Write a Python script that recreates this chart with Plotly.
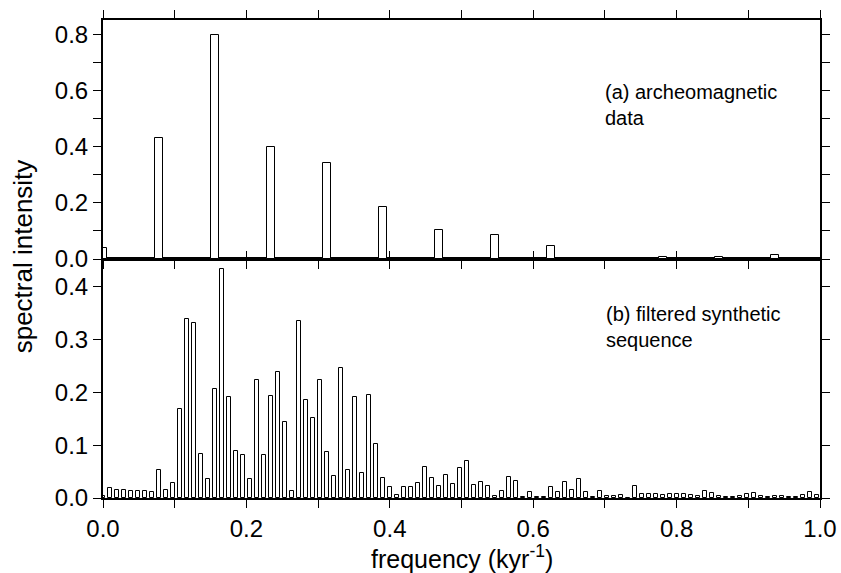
import numpy as np
import plotly.graph_objects as go

# ---- data ----
# (a) archeomagnetic data: spectral intensity at frequency bins k / 12.8 kyr^-1
df_a = 1 / 12.8
intensity_a = [0.039, 0.431, 0.800, 0.400, 0.344, 0.186, 0.103, 0.084,
               0.045, 0.000, 0.006, 0.008, 0.013]
freq_a = [k * df_a for k in range(len(intensity_a))]

# (b) filtered synthetic sequence: bins k / 102.4 kyr^-1
df_b = 1 / 102.4
intensity_b = [
    0.004, 0.019, 0.015, 0.0145, 0.013, 0.013, 0.013, 0.011, 0.053, 0.0145,
    0.028, 0.169, 0.338, 0.331, 0.083, 0.035, 0.206, 0.433, 0.191, 0.088,
    0.082, 0.036, 0.223, 0.081, 0.192, 0.239, 0.143, 0.013, 0.334, 0.186,
    0.152, 0.223, 0.087, 0.041, 0.246, 0.053, 0.191, 0.048, 0.194, 0.103,
    0.037, 0.020, 0.006, 0.020, 0.021, 0.028, 0.058, 0.038, 0.023, 0.043,
    0.027, 0.056, 0.070, 0.025, 0.031, 0.023, 0.003, 0.014, 0.039, 0.032,
    0.001, 0.012, 0.001, 0.001, 0.020, 0.012, 0.031, 0.015, 0.036, 0.012,
    0.002, 0.013, 0.003, 0.004, 0.006, 0.0005, 0.022, 0.008, 0.008, 0.008,
    0.005, 0.007, 0.007, 0.007, 0.005, 0.004, 0.013, 0.009, 0.003, 0.001,
    0.001, 0.003, 0.008, 0.010, 0.004, 0.001, 0.003, 0.004, 0.001, 0.001,
    0.005, 0.012, 0.006,
]
freq_b = [k * df_b for k in range(len(intensity_b))]

x_ticks = [0.0, 0.2, 0.4, 0.6, 0.8, 1.0]
label_a = "(a) archeomagnetic<br>data"
label_b = "(b) filtered synthetic<br>sequence"
x_title = "frequency (kyr<sup>-1</sup>)"
y_title = "spectral intensity"

FONT = "Liberation Sans, Arial, sans-serif"

fig = go.Figure()
fig.add_trace(go.Bar(x=freq_a, y=intensity_a, width=0.012,
                     marker=dict(color="white", line=dict(color="black", width=1)),
                     xaxis="x2", yaxis="y2", showlegend=False, hoverinfo="skip"))
fig.add_trace(go.Bar(x=freq_b, y=intensity_b, width=0.0056,
                     marker=dict(color="white", line=dict(color="black", width=1)),
                     xaxis="x", yaxis="y", showlegend=False, hoverinfo="skip"))
# helper trace for the overlay axis (upward ticks at the middle line)
fig.add_trace(go.Scatter(x=[0.5], y=[-1], xaxis="x3", yaxis="y2", mode="markers",
                         marker=dict(size=1, color="rgba(0,0,0,0)"),
                         showlegend=False, hoverinfo="skip"))

axis_common = dict(showgrid=False, zeroline=False, showline=True, automargin=False,
                   linecolor="black", linewidth=2, ticks="outside",
                   ticklen=8, tickwidth=1.3, tickcolor="black",
                   tickfont=dict(family=FONT, size=24, color="black"))
minor_ticks = dict(dtick=0.1, ticks="outside", ticklen=8,
                   tickwidth=1.3, tickcolor="black", showgrid=False)

fig.update_layout(
    template="none",
    width=841, height=573,
    margin=dict(l=103, r=21, t=20, b=75, autoexpand=False),
    font=dict(family=FONT, color="black"),
    paper_bgcolor="white", plot_bgcolor="white",
    bargap=0,
    xaxis=dict(domain=[0, 1], range=[0, 1], anchor="y", mirror=True,
               tickmode="array", tickvals=x_ticks,
               ticktext=[f"{v:.1f}" for v in x_ticks],
               minor=minor_ticks, **axis_common),
    yaxis=dict(domain=[0, 0.5], range=[0, 0.452], anchor="x", mirror="ticks",
               dtick=0.1, tick0=0, tickformat=".1f", **axis_common),
    xaxis2=dict(domain=[0, 1], range=[0, 1], anchor="y2", mirror="ticks",
                dtick=0.1, tick0=0, showticklabels=False, **axis_common),
    yaxis2=dict(domain=[0.5, 1], range=[0, 0.852], anchor="x2", mirror="ticks",
                dtick=0.2, tick0=0, tickformat=".1f", minor=minor_ticks,
                **axis_common),
    xaxis3=dict(range=[0, 1], overlaying="x2", anchor="y2", side="bottom",
                showgrid=False, zeroline=False, showline=False, automargin=False,
                ticks="inside", ticklen=8, tickwidth=1.3, tickcolor="black",
                dtick=0.2, tick0=0, showticklabels=False),
    annotations=[
        dict(text=label_a, x=0.698, y=0.55, xref="x2", yref="y2",
             xanchor="left", yanchor="middle", align="left", showarrow=False,
             font=dict(family=FONT, size=20, color="black")),
        dict(text=label_b, x=0.699, y=0.324, xref="x", yref="y",
             xanchor="left", yanchor="middle", align="left", showarrow=False,
             font=dict(family=FONT, size=20, color="black")),
        dict(text=y_title, x=-0.112, y=0.505, xref="paper", yref="paper",
             xanchor="center", yanchor="middle", textangle=-90, showarrow=False,
             font=dict(family=FONT, size=26, color="black")),
        dict(text=x_title, x=0.5, y=-0.123, xref="paper", yref="paper",
             xanchor="center", yanchor="middle", showarrow=False,
             font=dict(family=FONT, size=25, color="black")),
    ],
)

fig.write_html("out.html")
